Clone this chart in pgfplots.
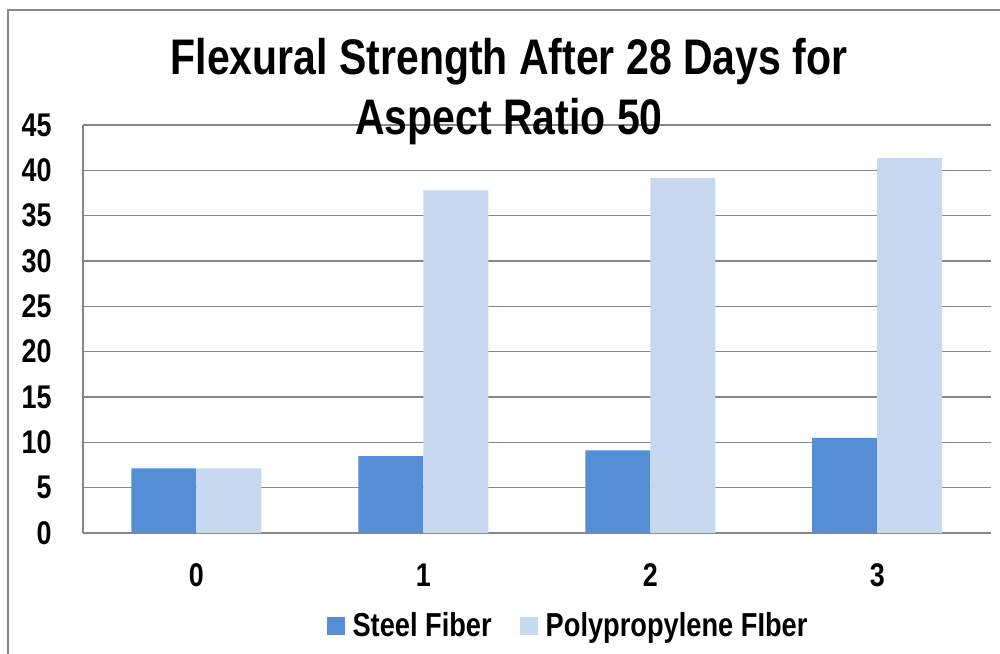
\documentclass[border=0pt]{standalone}
\usepackage{fontspec}
\setmainfont{Liberation Sans}[FakeStretch=0.82]
\usepackage{pgfplots}
\pgfplotsset{compat=1.18}
\definecolor{steel}{RGB}{85,142,213}
\definecolor{poly}{RGB}{198,217,241}
\definecolor{gridc}{RGB}{134,134,134}
\definecolor{borderc}{RGB}{136,136,136}
\begin{document}
\begin{tikzpicture}
\begin{axis}[
  at={(0,0)}, anchor=south west,
  scale only axis,
  width=453.85pt, height=204pt,
  xmin=-0.5, xmax=3.5, ymin=0, ymax=45,
  xtick={0,1,2,3},
  ytick={0,5,...,45},
  ybar=0pt, bar width=32.5pt,
  axis lines*=left,
  axis line style={gridc, line width=0.75pt},
  ymajorgrids, grid style={gridc, line width=0.75pt},
  major tick length=0pt,
  /pgf/number format/assume math mode=true,
  yticklabel style={font=\fontsize{16.4}{19}\selectfont\bfseries, anchor=east, inner sep=0pt, xshift=-15.5pt},
  xticklabel style={font=\fontsize{16.4}{19}\selectfont\bfseries, anchor=center, inner sep=0pt, yshift=-21pt},
  legend columns=2,
  legend style={at={(axis description cs:0.5354,-0.228)}, anchor=center, draw=none, fill=none,
    font=\fontsize{16.6}{19}\selectfont\bfseries,
    /tikz/every odd column/.append style={column sep=2pt},
    /tikz/every even column/.append style={column sep=12pt}},
  legend image code/.code={\fill[#1] (0pt,-4.5pt) rectangle (9pt,4.5pt);},
  clip=false,
]
\addplot[fill=steel, draw=none] coordinates {(0,7.13) (1,8.49) (2,9.12) (3,10.5)};
\addplot[fill=poly, draw=none] coordinates {(0,7.13) (1,37.78) (2,39.17) (3,41.35)};
\legend{Steel Fiber, Polypropylene FIber}
\end{axis}
\node[anchor=base, inner sep=0pt, font=\fontsize{25}{30}\selectfont\bfseries] at (213pt,229pt) {Flexural Strength After 28 Days for};
\node[anchor=base, inner sep=0pt, font=\fontsize{25}{30}\selectfont\bfseries] at (213pt,199pt) {Aspect Ratio 50};
\draw[borderc, line width=1.25pt] (-37.5pt,-62pt) -- (-37.5pt,261.5pt) -- (460pt,261.5pt);
\pgfresetboundingbox
\useasboundingbox (-41.5pt,-60pt) rectangle (458.5pt,266.5pt);
\end{tikzpicture}
\end{document}
